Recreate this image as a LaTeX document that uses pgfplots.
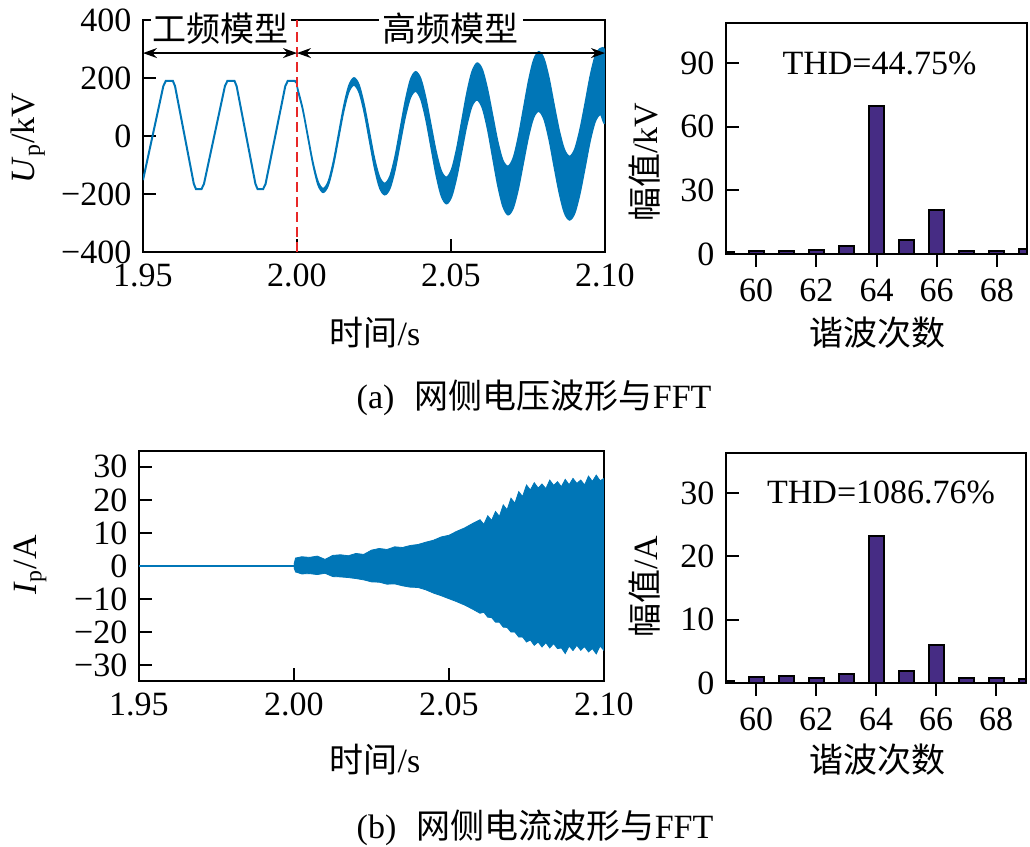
\documentclass[border=0pt]{standalone}
\usepackage{fontspec}
\setmainfont{Liberation Serif}
\newfontfamily\cjk{Noto Sans CJK SC}
\usepackage{pgfplots}
\pgfplotsset{compat=1.18}
\usetikzlibrary{arrows.meta}
\definecolor{wave}{RGB}{0,118,183}
\definecolor{barc}{RGB}{70,44,132}
\definecolor{dashred}{RGB}{232,40,40}
\pgfplotsset{
  myax/.style={scale only axis, anchor=south west,
    axis line style={line width=1pt}, tick style={line width=1pt, black},
    major tick length=6.5pt, tick align=inside,
    xtick pos=bottom, ytick pos=left, clip=true,
    /pgf/number format/assume math mode=true},
  barax/.style={myax, axis on top, xmin=59, xmax=69, xtick={60,62,64,66,68},
    ybar, bar width=0.5, bar shift=0pt},
}
\begin{document}
\fontsize{17}{20}\selectfont
\begin{tikzpicture}
\useasboundingbox (0,0) rectangle (515pt,423.5pt);
% ---------- (a) voltage waveform ----------
\begin{axis}[myax, at={(71.5pt,297.5pt)}, width=231pt, height=116pt,
  xmin=1.95, xmax=2.1, ymin=-400, ymax=400,
  xtick={1.95,2,2.05,2.1}, xticklabels={1.95,2.00,2.05,2.10},
  ytick={-400,-200,0,200,400}, yticklabels={−400,−200,0,200,400}]
\addplot[wave, line width=1pt] coordinates {
(1.9500,-152) (1.9566,172) (1.9574,190) (1.9597,190) (1.9604,172) (1.9665,-165)
(1.9672,-183) (1.9690,-183) (1.9698,-165) (1.9766,172) (1.9774,190) (1.9797,190)
(1.9804,172) (1.9865,-165) (1.9872,-183) (1.9890,-183) (1.9898,-165) (1.9962,172)
(1.9970,190) (1.9993,190) (2.0000,182)};
\addplot[wave, fill=wave, line width=0.6pt, smooth] coordinates {
(2.0000,182) (2.00017,168) (2.00183,99) (2.0035,6) (2.00517,-88) (2.00683,-156)
(2.0085,-181) (2.01017,-155) (2.01183,-85) (2.0135,10) (2.01517,105) (2.01683,175)
(2.0185,201) (2.02017,177) (2.02183,109) (2.0235,17) (2.02517,-76) (2.02683,-141)
(2.0285,-163) (2.03017,-138) (2.03183,-69) (2.0335,27) (2.03517,123) (2.03683,195)
(2.0385,222) (2.04017,199) (2.04183,132) (2.0435,40) (2.04517,-52) (2.04683,-119)
(2.0485,-142) (2.05017,-115) (2.05183,-43) (2.0535,54) (2.05517,151) (2.05683,223)
(2.0585,252) (2.06017,230) (2.06183,164) (2.0635,74) (2.06517,-17) (2.06683,-83)
(2.0685,-104) (2.07017,-76) (2.07183,-3) (2.0735,94) (2.07517,191) (2.07683,263)
(2.0785,291) (2.08017,268) (2.08183,201) (2.0835,108) (2.08517,19) (2.08683,-46)
(2.0885,-70) (2.09017,-45) (2.09183,22) (2.0935,112) (2.09517,207) (2.09683,277)
(2.0985,302) (2.1000,282)
(2.1000,52) (2.0985,74) (2.09683,49) (2.09517,-19) (2.0935,-112) (2.09183,-202)
(2.09017,-267) (2.0885,-290) (2.08683,-266) (2.08517,-199) (2.0835,-108) (2.08183,-13)
(2.08017,58) (2.0785,85) (2.07683,63) (2.07517,-3) (2.0735,-94) (2.07183,-185)
(2.07017,-250) (2.0685,-272) (2.06683,-243) (2.06517,-171) (2.0635,-74) (2.06183,24)
(2.06017,96) (2.0585,124) (2.05683,103) (2.05517,37) (2.0535,-54) (2.05183,-145)
(2.05017,-211) (2.0485,-234) (2.04683,-207) (2.04517,-136) (2.0435,-40) (2.04183,56)
(2.04017,127) (2.0385,154) (2.03683,131) (2.03517,65) (2.0335,-27) (2.03183,-119)
(2.03017,-182) (2.0285,-203) (2.02683,-180) (2.02517,-112) (2.0235,-17) (2.02183,79)
(2.02017,149) (2.0185,175) (2.01683,151) (2.01517,83) (2.0135,-10) (2.01183,-103)
(2.01017,-171) (2.0085,-195) (2.00683,-170) (2.00517,-100) (2.0035,-6) (2.00183,89)
(2.00017,158) (2.0000,178)};
\addplot[dashred, line width=0.8pt, dash pattern=on 5pt off 2.5pt] coordinates {(2.0,-400) (2.0,400)};
\draw[{Stealth[length=7pt,width=5pt]}-{Stealth[length=7pt,width=5pt]}, line width=0.7pt]
  (axis cs:1.95,286) -- (axis cs:2.0,286);
\draw[{Stealth[length=7pt,width=5pt]}-{Stealth[length=7pt,width=5pt]}, line width=0.7pt]
  (axis cs:2.0,286) -- (axis cs:2.1,286);
\coordinate (lbA) at (axis cs:1.9753,372);
\coordinate (lbB) at (axis cs:2.05,372);
\end{axis}
\node[fill=white, inner sep=1pt] at (lbA) {\cjk 工频模型};
\node[fill=white, inner sep=2pt] at (lbB) {\cjk 高频模型};
% ---------- (a) FFT ----------
\begin{axis}[barax, at={(363pt,296.5pt)}, width=150.5pt, height=115.5pt,
  ymin=0, ymax=109, ytick={0,30,60,90}]
\addplot[fill=barc, draw=black, line width=1pt] coordinates {
(59,1.1) (60,1.5) (61,1.4) (62,1.9) (63,3.9) (64,69.7) (65,6.4) (66,20.6) (67,1.4) (68,1.5) (69,2.2)};
\node at (axis cs:64.1,90) {THD=44.75\%};
\end{axis}
% ---------- (b) current waveform ----------
\begin{axis}[myax, at={(69.5pt,83pt)}, width=232.5pt, height=115pt,
  xmin=1.95, xmax=2.1, ymin=-34.8, ymax=34.8,
  xtick={1.95,2,2.05,2.1}, xticklabels={1.95,2.00,2.05,2.10},
  ytick={-30,-20,-10,0,10,20,30}, yticklabels={−30,−20,−10,0,10,20,30}]
\addplot[wave, line width=1pt] coordinates {(1.95,0) (2.0,0)};
\addplot[wave, fill=wave, line width=0.4pt] coordinates {
(2.0000,0.5) (2.0005,2.4) (2.0025,2.8) (2.0050,2.6) (2.0075,3.0) (2.0100,2.0)
(2.0125,3.2) (2.0150,3.4) (2.0175,3.1) (2.0200,3.8) (2.0225,3.5) (2.0250,4.8)
(2.0275,5.3) (2.0300,5.0) (2.0325,5.8) (2.0350,5.6) (2.0375,6.2) (2.0400,6.5)
(2.0425,7.2) (2.0450,7.8) (2.0475,8.8) (2.0500,9.3) (2.0525,10.5) (2.0550,11.5)
(2.0575,12.8) (2.0600,14.0) (2.06125,12.6) (2.0625,15.2) (2.06375,13.8) (2.0650,16.5)
(2.06625,15.0) (2.0675,18.5) (2.06875,17.0) (2.0700,20.5) (2.07125,19.0) (2.0725,22.5)
(2.07375,21.0) (2.0750,24.5) (2.07625,23.0) (2.0775,25.2) (2.07875,23.6) (2.0800,24.8)
(2.08125,23.4) (2.0825,26.0) (2.08375,24.4) (2.0850,25.5) (2.08625,24.0) (2.0875,26.2)
(2.08875,24.6) (2.0900,26.5) (2.09125,25.0) (2.0925,26.0) (2.09375,24.5) (2.0950,27.2)
(2.09625,25.6) (2.0975,27.5) (2.09875,25.8) (2.1000,26.5)
(2.1000,-25.6) (2.09875,-24.2) (2.0975,-26.6) (2.09625,-25.0) (2.0950,-26.0) (2.09375,-24.4)
(2.0925,-25.5) (2.09125,-24.0) (2.0900,-25.6) (2.08875,-24.2) (2.0875,-26.5) (2.08625,-24.8)
(2.0850,-25.0) (2.08375,-23.5) (2.0825,-24.8) (2.08125,-23.2) (2.0800,-24.5) (2.07875,-23.0)
(2.0775,-24.0) (2.07625,-22.4) (2.0750,-23.0) (2.07375,-21.5) (2.0725,-21.5) (2.07125,-20.0)
(2.0700,-20.0) (2.06875,-18.6) (2.0675,-18.5) (2.06625,-17.0) (2.0650,-17.0) (2.06375,-15.6)
(2.0625,-15.5) (2.06125,-14.0) (2.0600,-14.3) (2.0575,-13.0) (2.0550,-11.8) (2.0525,-10.8)
(2.0500,-9.9) (2.0475,-9.0) (2.0450,-8.2) (2.0425,-7.2) (2.0400,-6.5) (2.0375,-6.4)
(2.0350,-6.0) (2.0325,-5.4) (2.0300,-5.5) (2.0275,-4.9) (2.0250,-4.8) (2.0225,-4.2)
(2.0200,-3.8) (2.0175,-3.5) (2.0150,-3.3) (2.0125,-3.2) (2.0100,-2.2) (2.0075,-2.6)
(2.0050,-2.3) (2.0025,-2.4) (2.0005,-1.8) (2.0000,-0.5)};
\end{axis}
% ---------- (b) FFT ----------
\begin{axis}[barax, at={(363pt,82pt)}, width=150pt, height=115pt,
  ymin=0, ymax=36.3, ytick={0,10,20,30}]
\addplot[fill=barc, draw=black, line width=1pt] coordinates {
(59,0.3) (60,0.95) (61,1.05) (62,0.85) (63,1.4) (64,23.2) (65,1.95) (66,5.95) (67,0.85) (68,0.85) (69,0.6)};
\node at (axis cs:64.17,30) {THD=1086.76\%};
\end{axis}
% ---------- labels ----------
\node[rotate=90] at (14pt,354.5pt) {\textit{U}\textsubscript{p}/kV};
\node at (187.5pt,257pt) {{\cjk 时间}/s};
\node[rotate=90] at (322.5pt,342.5pt) {{\cjk 幅值}/kV};
\node at (438.5pt,257pt) {\cjk 谐波次数};
\node[anchor=west] at (172.5pt,224.5pt) {(a)\hspace{0.6em}{\cjk 网侧电压波形与}FFT};
\node[rotate=90] at (15pt,141pt) {\textit{I}\textsubscript{p}/A};
\node at (187.5pt,43.5pt) {{\cjk 时间}/s};
\node[rotate=90] at (322.5pt,130pt) {{\cjk 幅值}/A};
\node at (438.5pt,43.5pt) {\cjk 谐波次数};
\node[anchor=west] at (172.5pt,9.5pt) {(b)\hspace{0.6em}{\cjk 网侧电流波形与}FFT};
\end{tikzpicture}
\end{document}
